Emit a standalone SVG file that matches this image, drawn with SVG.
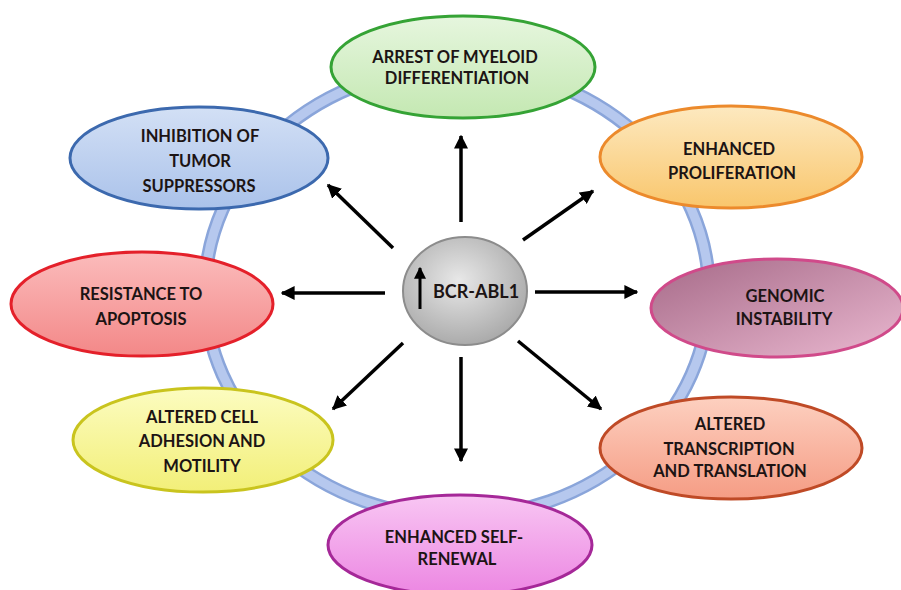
<svg xmlns="http://www.w3.org/2000/svg" width="901" height="590" viewBox="0 0 901 590">
<defs>
<linearGradient id="gGreen" x1="0" y1="0" x2="0" y2="1"><stop offset="0" stop-color="#e6f6de"/><stop offset="1" stop-color="#c4e8b2"/></linearGradient>
<linearGradient id="gBlue" x1="0" y1="0" x2="0" y2="1"><stop offset="0" stop-color="#d3e0f5"/><stop offset="1" stop-color="#aac2ea"/></linearGradient>
<linearGradient id="gOrange" x1="0" y1="0" x2="0" y2="1"><stop offset="0" stop-color="#fde9c0"/><stop offset="1" stop-color="#f9c66c"/></linearGradient>
<linearGradient id="gRed" x1="0" y1="0" x2="0" y2="1"><stop offset="0" stop-color="#fbbcbc"/><stop offset="1" stop-color="#f38888"/></linearGradient>
<linearGradient id="gMauve" x1="0" y1="0" x2="1" y2="1"><stop offset="0" stop-color="#a66a88"/><stop offset="1" stop-color="#eab8d0"/></linearGradient>
<linearGradient id="gYellow" x1="0" y1="0" x2="0" y2="1"><stop offset="0" stop-color="#fcfcc0"/><stop offset="1" stop-color="#f2ef78"/></linearGradient>
<linearGradient id="gSalmon" x1="0" y1="0" x2="0" y2="1"><stop offset="0" stop-color="#fdd0c0"/><stop offset="1" stop-color="#f59c84"/></linearGradient>
<linearGradient id="gMagenta" x1="0" y1="0" x2="0" y2="1"><stop offset="0" stop-color="#f8c6f3"/><stop offset="1" stop-color="#ec86e2"/></linearGradient>
<radialGradient id="gGrey" cx="0.45" cy="0.4" r="0.65"><stop offset="0" stop-color="#e8e8e8"/><stop offset="1" stop-color="#a6a6a6"/></radialGradient>
<marker id="ah" viewBox="0 0 10 10" refX="9" refY="5" markerWidth="4" markerHeight="4" orient="auto" markerUnits="strokeWidth"><path d="M0,0 L10,5 L0,10 z" fill="#000"/></marker>
</defs>
<style>
.lbl{font-family:Lato,"Open Sans","Liberation Sans",sans-serif;font-weight:bold;font-size:16.5px;fill:#1c1414;text-anchor:middle}
.arr{stroke:#000;stroke-width:3.5;fill:none;marker-end:url(#ah)}
.node ellipse{stroke-width:3}
</style>
<rect width="901" height="590" fill="#fff"/>
<g id="ring">
<ellipse cx="457" cy="292" rx="252" ry="225" fill="none" stroke="#8aa5da" stroke-width="14"/>
<ellipse cx="457" cy="292" rx="252" ry="225" fill="none" stroke="#b6c8ee" stroke-width="9"/>
</g>
<g id="n-myeloid" class="node">
<ellipse cx="463" cy="67" rx="132" ry="51" fill="url(#gGreen)" stroke="#35a335"/>
<text class="lbl" x="455" y="63">ARREST OF MYELOID</text>
<text class="lbl" x="457" y="84">DIFFERENTIATION</text>
</g>
<g id="n-tumor" class="node">
<ellipse cx="199" cy="158" rx="129" ry="51" fill="url(#gBlue)" stroke="#3c69ae"/>
<text class="lbl" x="200" y="142">INHIBITION OF</text>
<text class="lbl" x="200" y="167">TUMOR</text>
<text class="lbl" x="199" y="192">SUPPRESSORS</text>
</g>
<g id="n-prolif" class="node">
<ellipse cx="731" cy="157" rx="131" ry="51" fill="url(#gOrange)" stroke="#ec8a2c"/>
<text class="lbl" x="729" y="155">ENHANCED</text>
<text class="lbl" x="732" y="179">PROLIFERATION</text>
</g>
<g id="n-apoptosis" class="node">
<ellipse cx="142" cy="304" rx="131" ry="52" fill="url(#gRed)" stroke="#e4202a"/>
<text class="lbl" x="141" y="300">RESISTANCE TO</text>
<text class="lbl" x="141" y="325">APOPTOSIS</text>
</g>
<g id="n-genomic" class="node">
<ellipse cx="777" cy="308" rx="126" ry="49" fill="url(#gMauve)" stroke="#d04a8a"/>
<text class="lbl" x="785" y="302">GENOMIC</text>
<text class="lbl" x="784" y="325">INSTABILITY</text>
</g>
<g id="n-adhesion" class="node">
<ellipse cx="203" cy="440" rx="130" ry="52" fill="url(#gYellow)" stroke="#c9c41e"/>
<text class="lbl" x="202" y="423">ALTERED CELL</text>
<text class="lbl" x="202" y="447">ADHESION AND</text>
<text class="lbl" x="202" y="472">MOTILITY</text>
</g>
<g id="n-transcription" class="node">
<ellipse cx="731" cy="448" rx="131" ry="51" fill="url(#gSalmon)" stroke="#bf4a26"/>
<text class="lbl" x="730" y="430">ALTERED</text>
<text class="lbl" x="729" y="455">TRANSCRIPTION</text>
<text class="lbl" x="730" y="477">AND TRANSLATION</text>
</g>
<g id="n-selfrenewal" class="node">
<ellipse cx="460" cy="545" rx="132" ry="50" fill="url(#gMagenta)" stroke="#a52898"/>
<text class="lbl" x="454" y="543">ENHANCED SELF-</text>
<text class="lbl" x="457" y="565">RENEWAL</text>
</g>
<g id="n-bcrabl" class="node">
<ellipse cx="465" cy="291" rx="62" ry="54" fill="url(#gGrey)" stroke="#8c8c8c" style="stroke-width:2"/>
<line x1="420" y1="309" x2="420" y2="268" class="arr" style="stroke-width:3"/>
<text class="lbl" x="476" y="298" style="font-size:18px">BCR-ABL1</text>
</g>
<g id="connectors">
<line class="arr" x1="461" y1="222" x2="461" y2="136"/>
<line class="arr" x1="523" y1="240" x2="593" y2="191"/>
<line class="arr" x1="535" y1="292" x2="637" y2="292"/>
<line class="arr" x1="518" y1="341" x2="601" y2="409"/>
<line class="arr" x1="461" y1="357" x2="461" y2="461"/>
<line class="arr" x1="403" y1="343" x2="333" y2="409"/>
<line class="arr" x1="385" y1="293" x2="282" y2="293"/>
<line class="arr" x1="393" y1="248" x2="328" y2="185"/>
</g>
</svg>
